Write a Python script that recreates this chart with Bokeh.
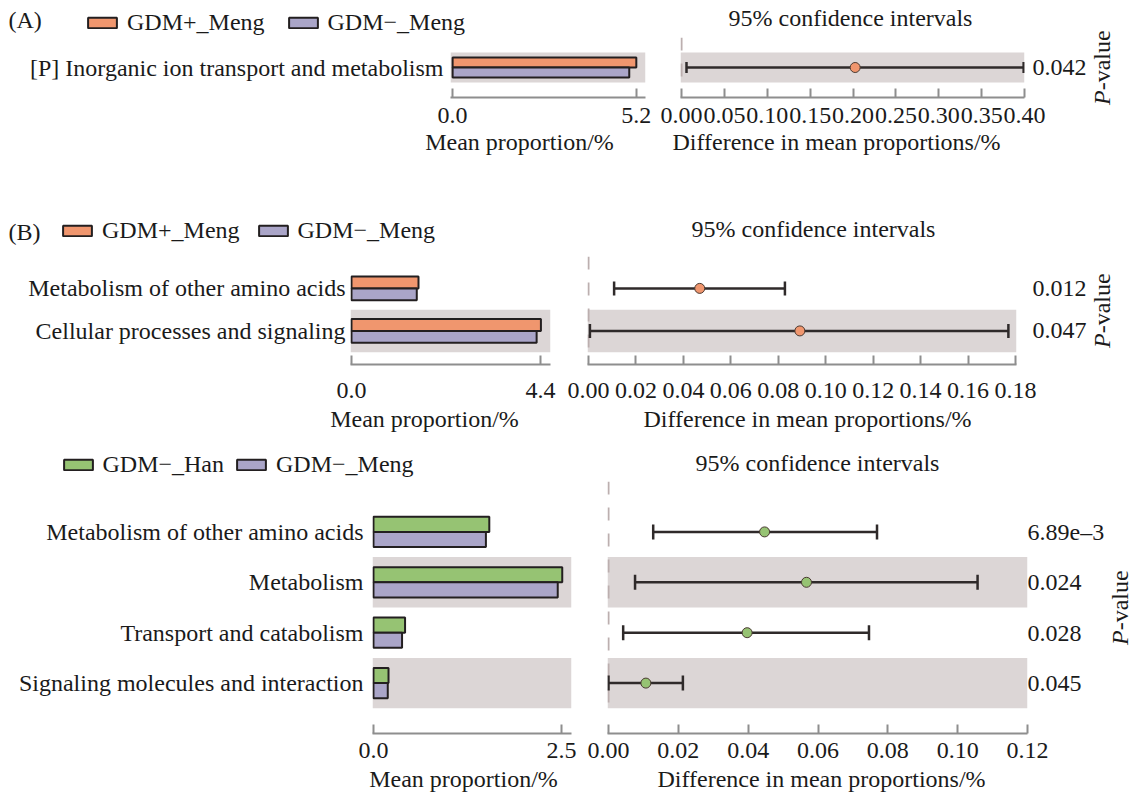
import numpy as np
from bokeh.plotting import figure
from bokeh.models import Range1d, FixedTicker, NumeralTickFormatter, Legend, LegendItem
from bokeh.core.properties import value
from bokeh.layouts import row, column
from bokeh.embed import file_html
from bokeh.resources import INLINE

# ---------------- data ----------------
a_tag = "(A)"
a_groups = ["GDM+_Meng", "GDM\u2212_Meng"]
a_categories = ["[P] Inorganic ion transport and metabolism"]
a_mean_1 = [5.20]
a_mean_2 = [5.00]
a_diff = [0.2025]
a_ci_low = [0.0058]
a_ci_high = [0.399]
a_pvalues = ["0.042"]
a_bar_ticks = [0.0, 5.2]
a_ci_ticks = [0.00, 0.05, 0.10, 0.15, 0.20, 0.25, 0.30, 0.35, 0.40]

b_tag = "(B)"
b_groups = ["GDM+_Meng", "GDM\u2212_Meng"]
b_categories = ["Metabolism of other amino acids", "Cellular processes and signaling"]
b_mean_1 = [1.56, 4.41]
b_mean_2 = [1.52, 4.31]
b_diff = [0.0469, 0.0891]
b_ci_low = [0.0108, 0.0006]
b_ci_high = [0.0828, 0.1770]
b_pvalues = ["0.012", "0.047"]
b_bar_ticks = [0.0, 4.4]
b_ci_ticks = [0.00, 0.02, 0.04, 0.06, 0.08, 0.10, 0.12, 0.14, 0.16, 0.18]

c_tag = ""
c_groups = ["GDM\u2212_Han", "GDM\u2212_Meng"]
c_categories = ["Metabolism of other amino acids", "Metabolism",
                "Transport and catabolism", "Signaling molecules and interaction"]
c_mean_1 = [1.54, 2.51, 0.42, 0.20]
c_mean_2 = [1.495, 2.45, 0.38, 0.19]
c_diff = [0.0447, 0.0567, 0.0397, 0.0107]
c_ci_low = [0.0128, 0.0076, 0.0042, 0.0000]
c_ci_high = [0.0769, 0.1057, 0.0746, 0.0213]
c_pvalues = ["6.89e\u20133", "0.024", "0.028", "0.045"]
c_bar_ticks = [0.0, 2.5]
c_ci_ticks = [0.00, 0.02, 0.04, 0.06, 0.08, 0.10, 0.12]

ci_title = "95% confidence intervals"
bar_axis_title = "Mean proportion/%"
ci_axis_title = "Difference in mean proportions/%"

# ---------------- style ----------------
FONT = "Liberation Serif"
FS = "24px"
TXT = "#1a1a1a"
ORANGE = "#F0966E"
PURPLE = "#AAA5C8"
GREEN = "#96C373"
BG = "#DCD6D6"
OUTL = "#231F20"
AXC = "#8E8E8E"
DASH = "#BCAFAF"
ERR = "#2F2A2A"
DOT_EDGE = "#4A3A32"
PAGE_W = 1132

# layout geometry in page pixels (y downwards); text y values are glyph anchors
GEO = {
    "A": dict(y0=0, ft=37, fb=97, mb=129, y1=168, ytop=-1.0, ybot=1.0,
              bw=656, bfl=450, bfr=645, bxr=(-0.06, 5.46),
              cw=433, cfl=680, cfr=1027, cxr=(-0.0012, 0.40),
              bh=0.33, cat_so=7, tick_so=10, pv_so=8, cap=11, pvx=1101,
              tag=(8, 19), leg=(84, 1.0), leg_sp=20, head=(850, 17.5),
              bt=(519, 141.5), ct=(836, 141.5)),
    "B": dict(y0=168, ft=256, fb=364, mb=405, y1=440, ytop=-0.75, ybot=1.79,
              bw=561, bfl=350, bfr=550, bxr=(-0.023, 4.633),
              cw=528, cfl=587, cfr=1019, cxr=(-0.00042, 0.18042),
              bh=0.28, cat_so=5, tick_so=18, pv_so=16, cap=14, pvx=1101,
              tag=(8, 231), leg=(59, 12.0), leg_sp=15, head=(813, 228),
              bt=(424, 418.5), ct=(807, 418.5)),
    "C": dict(y0=440, ft=481, fb=733, mb=764, y1=793, ytop=-1.0, ybot=4.0,
              bw=583, bfl=372, bfr=571, bxr=(-0.013, 2.633),
              cw=525, cfl=607, cfr=1027, cxr=(-0.00029, 0.12),
              bh=0.30, cat_so=9, tick_so=9, pv_so=0, cap=15, pvx=1119.5,
              tag=(8, 462), leg=(59.5, 3.5), leg_sp=9, head=(817, 462),
              bt=(463, 778.5), ct=(821, 778.5)),
}


def base_style(p):
    p.outline_line_color = None
    p.grid.visible = False
    p.background_fill_color = "white"
    p.border_fill_color = "white"


def blank_fig(w, h, xr, yr):
    p = figure(width=w, height=h, x_range=Range1d(*xr), y_range=Range1d(*yr),
               x_axis_location=None, y_axis_location=None,
               min_border_left=0, min_border_right=0, min_border_top=0, min_border_bottom=0,
               output_backend="svg", toolbar_location=None)
    base_style(p)
    return p


def put_text(p, x, y, t, align="center", angle=0.0, style="normal"):
    p.text(x=[x], y=[y], text=[t], angle=angle, text_font=value(FONT), text_font_size=FS,
           text_color=TXT, text_align=align, text_baseline="alphabetic",
           text_font_style=style)


def style_xaxis(ax, ticks, fmt, standoff):
    ax.ticker = FixedTicker(ticks=ticks)
    ax.formatter = NumeralTickFormatter(format=fmt)
    ax.axis_line_color = AXC
    ax.axis_line_width = 2
    ax.major_tick_line_color = AXC
    ax.major_tick_line_width = 2
    ax.major_tick_in = 9
    ax.major_tick_out = 0
    ax.minor_tick_line_color = None
    ax.major_label_standoff = standoff
    ax.major_label_text_font = FONT
    ax.major_label_text_font_size = FS
    ax.major_label_text_color = TXT


def style_label_axis(ay, rows, labels, standoff):
    ay.ticker = FixedTicker(ticks=rows)
    ay.major_label_overrides = {int(r): l for r, l in zip(rows, labels)}
    ay.axis_line_color = None
    ay.major_tick_line_color = None
    ay.minor_tick_line_color = None
    ay.major_tick_in = 0
    ay.major_tick_out = 0
    ay.major_label_standoff = standoff
    ay.major_label_text_font = FONT
    ay.major_label_text_font_size = FS
    ay.major_label_text_color = TXT


def make_row(key, tag, groups, cats, m1, m2, diff, lo, hi, pvals, bticks, cticks, c1, c2):
    g = GEO[key]
    n = len(cats)
    rows = list(range(n))
    shaded = [i for i in rows if (n - 1 - i) % 2 == 0]
    block_w = g["bw"] + g["cw"]
    mid_h = g["mb"] - g["ft"]
    yr = (g["ybot"], g["ytop"])

    # ---- header: tag, legend, CI title ----
    ph = blank_fig(block_w, g["ft"] - g["y0"], (0, block_w), (g["ft"], g["y0"]))
    if tag:
        put_text(ph, g["tag"][0], g["tag"][1], tag, align="left")
    put_text(ph, g["head"][0], g["head"][1], ci_title)
    # legend style proxies: hidden renderers, only used for the legend swatches
    k1 = ph.hbar(y=[10], left=[0], right=[1], height=1, fill_color=c1, line_color=OUTL,
                 line_width=2, visible=False)
    k2 = ph.hbar(y=[10], left=[0], right=[1], height=1, fill_color=c2, line_color=OUTL,
                 line_width=2, visible=False)
    legend = Legend(items=[LegendItem(label=groups[0], renderers=[k1]),
                           LegendItem(label=groups[1], renderers=[k2])],
                    location=g["leg"], orientation="horizontal", click_policy="none",
                    glyph_width=36, glyph_height=13, label_standoff=7, spacing=g["leg_sp"],
                    padding=0, margin=0, border_line_color=None, background_fill_alpha=0,
                    inactive_fill_alpha=0,
                    label_text_font=FONT, label_text_font_size=FS, label_text_color=TXT)
    ph.add_layout(legend)

    # ---- bar chart (mean proportions) ----
    pb = figure(width=g["bw"], height=mid_h,
                x_range=Range1d(*g["bxr"]), y_range=Range1d(*yr),
                min_border_left=g["bfl"], min_border_right=g["bw"] - g["bfr"],
                min_border_top=0, min_border_bottom=g["mb"] - g["fb"],
                output_backend="svg", toolbar_location=None)
    base_style(pb)
    pb.hbar(y=shaded, left=g["bxr"][0], right=g["bxr"][1], height=1.0,
            fill_color=BG, line_color=None)
    bh = g["bh"]
    pb.hbar(y=[r - bh / 2 for r in rows], left=0, right=m1, height=bh,
            fill_color=c1, line_color=OUTL, line_width=2)
    pb.hbar(y=[r + bh / 2 for r in rows], left=0, right=m2, height=bh,
            fill_color=c2, line_color=OUTL, line_width=2)
    style_xaxis(pb.xaxis[0], bticks, "0.0", g["tick_so"])
    style_label_axis(pb.yaxis[0], rows, cats, g["cat_so"])

    # ---- confidence interval chart (p-values on its right axis) ----
    pc = figure(width=g["cw"], height=mid_h,
                x_range=Range1d(*g["cxr"]), y_range=Range1d(*yr),
                y_axis_location="right",
                min_border_left=g["cfl"] - g["bw"], min_border_right=block_w - g["cfr"],
                min_border_top=0, min_border_bottom=g["mb"] - g["fb"],
                output_backend="svg", toolbar_location=None)
    base_style(pc)
    pc.hbar(y=shaded, left=g["cxr"][0], right=g["cxr"][1], height=1.0,
            fill_color=BG, line_color=None)
    pc.segment(x0=[0], y0=[g["ytop"]], x1=[0], y1=[n - 0.5],
               line_color=DASH, line_width=2, line_dash="13 13")
    pc.segment(x0=lo, y0=rows, x1=hi, y1=rows, line_color=ERR, line_width=2.5)
    pc.scatter(x=list(lo) + list(hi), y=rows + rows, marker="dash", angle=np.pi / 2,
               size=g["cap"], line_color=ERR, line_width=2.5)
    pc.scatter(x=diff, y=rows, size=10, fill_color=c1, line_color=DOT_EDGE, line_width=1)
    style_xaxis(pc.xaxis[0], cticks, "0.00", g["tick_so"])
    style_label_axis(pc.yaxis[0], rows, pvals, g["pv_so"])

    # ---- footer: axis titles ----
    pf = blank_fig(block_w, g["y1"] - g["mb"], (0, block_w), (g["y1"], g["mb"]))
    put_text(pf, g["bt"][0], g["bt"][1], bar_axis_title)
    put_text(pf, g["ct"][0], g["ct"][1], ci_axis_title)

    # ---- rotated "P-value" ----
    pp = blank_fig(PAGE_W - block_w, g["y1"] - g["y0"], (block_w, PAGE_W), (g["y1"], g["y0"]))
    yc = (g["ft"] + g["fb"]) / 2
    put_text(pp, g["pvx"], yc + 37.5, "P", align="left", angle=np.pi / 2, style="italic")
    put_text(pp, g["pvx"], yc + 22.8, "-value", align="left", angle=np.pi / 2)

    block = column(ph, row(pb, pc, spacing=0), pf, spacing=0)
    return row(block, pp, spacing=0)


row_a = make_row("A", a_tag, a_groups, a_categories, a_mean_1, a_mean_2, a_diff,
                 a_ci_low, a_ci_high, a_pvalues, a_bar_ticks, a_ci_ticks, ORANGE, PURPLE)
row_b = make_row("B", b_tag, b_groups, b_categories, b_mean_1, b_mean_2, b_diff,
                 b_ci_low, b_ci_high, b_pvalues, b_bar_ticks, b_ci_ticks, ORANGE, PURPLE)
row_c = make_row("C", c_tag, c_groups, c_categories, c_mean_1, c_mean_2, c_diff,
                 c_ci_low, c_ci_high, c_pvalues, c_bar_ticks, c_ci_ticks, GREEN, PURPLE)

p = column(row_a, row_b, row_c, spacing=0)
open("out.html", "w").write(file_html(p, INLINE))
